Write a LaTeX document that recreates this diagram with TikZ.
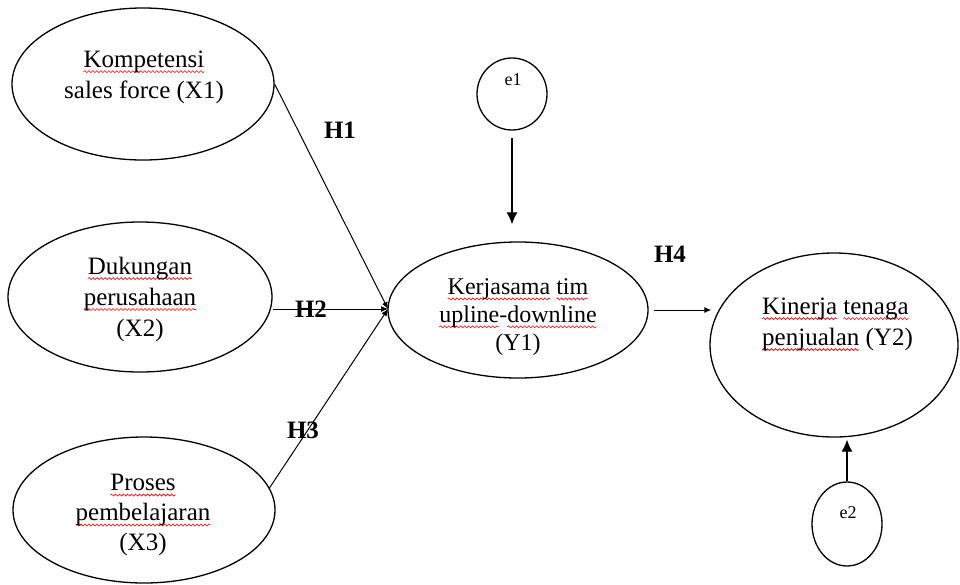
\documentclass[tikz,border=0pt]{standalone}
\usepackage{fontspec}
\setmainfont{Liberation Serif}
\usetikzlibrary{shapes.geometric,arrows.meta,decorations.pathmorphing}
\newsavebox\spellbox
\newcommand\spellw[1]{\sbox\spellbox{#1}\rlap{\tikz[overlay,x=1pt,y=1pt]{\draw[red, line width=0.6pt, decorate, decoration={snake, amplitude=1pt, segment length=4pt}] (0pt,-4.5pt) -- (\wd\spellbox,-4.5pt);}}\usebox\spellbox}
\begin{document}
\begin{tikzpicture}[x=1pt,y=-1pt,
  lat/.style={draw, ellipse, line width=1.3pt, inner sep=0pt},
  txt/.style={font=\fontsize{25}{31}\selectfont, align=center, inner sep=0pt},
  hyp/.style={font=\fontsize{25}{30}\selectfont\bfseries, inner sep=0pt},
  err/.style={font=\fontsize{18}{20}\selectfont, inner sep=0pt},
  arr/.style={-{Latex[length=7pt,width=6pt]}, line width=1pt},
  arrbig/.style={-{Latex[length=12pt,width=11pt]}, line width=1.2pt}]
\useasboundingbox (0,0) rectangle (960,584);
% latent variables
\node[lat, minimum width=262pt, minimum height=152pt] (X1) at (143,84) {};
\node[lat, minimum width=264pt, minimum height=150pt] (X2) at (140,297) {};
\node[lat, minimum width=262pt, minimum height=146pt] (X3) at (144,510) {};
\node[lat, minimum width=260pt, minimum height=136pt] (Y1) at (518,310) {};
\node[lat, minimum width=248pt, minimum height=184pt] (Y2) at (834,345) {};
\node[lat, minimum width=70pt, minimum height=72pt] (e1) at (512,94) {};
\node[lat, minimum width=70pt, minimum height=84pt] (e2) at (847,524) {};
% texts
\node[txt] (tX1) at (144,77) {\spellw{Kompetensi}\\sales force (X1)};
\node[txt] (tX2) at (140,299) {\spellw{Dukungan}\\\spellw{perusahaan}\\(X2)};
\node[txt, font=\fontsize{25}{30}\selectfont] (tX3) at (143,515) {\spellw{Proses}\\\spellw{pembelajaran}\\(X3)};
\node[txt, font=\fontsize{24}{28}\selectfont] (tY1) at (518,317) {\spellw{Kerjasama} \spellw{tim}\\\spellw{upline}-\spellw{downline}\\(Y1)};
\node[txt, align=left, anchor=west] (tY2) at (762,324) {\spellw{Kinerja} \spellw{tenaga}\\\spellw{penjualan} (Y2)};
\node[err] (te1) at (513,80) {e1};
\node[err] (te2) at (848,513) {e2};
% connectors
\coordinate (conv) at (388,309);
\draw[arr] (X1.east) -- (conv);
\draw[arr] (X2.east |- conv) -- (conv);
\draw[arr] (X3.10) -- (conv);
\draw[arrbig, shorten <=7pt, shorten >=17pt] (e1.south) -- (e1.south |- Y1.north);
\draw[arr, shorten <=5pt, shorten >=-2pt] (Y1.east) -- (Y2.west |- Y1.east);
\draw[arrbig, shorten >=2pt] (e2.north) -- (e2.north |- Y2.south);
% hypothesis labels
\node[hyp] (H1) at (340,130) {H1};
\node[hyp] (H2) at (311,309) {H2};
\node[hyp] (H3) at (303,430) {H3};
\node[hyp] (H4) at (670,254) {H4};
\end{tikzpicture}
\end{document}
